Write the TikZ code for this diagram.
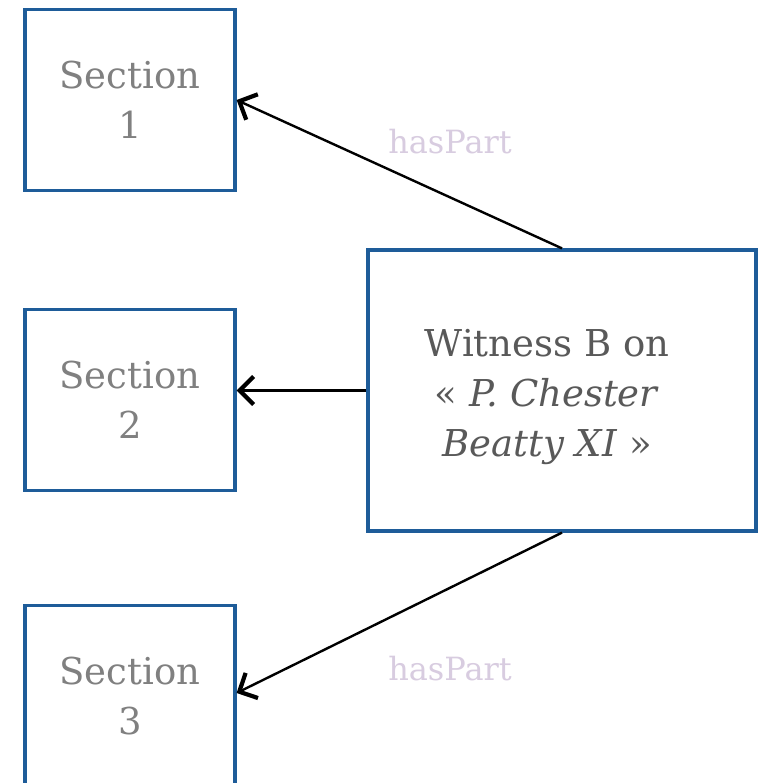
\documentclass[tikz,border=0pt]{standalone}
\usepackage{fontspec}
\setmainfont{DejaVu Serif}
\usetikzlibrary{arrows.meta}
\definecolor{boxblue}{RGB}{30,92,153}
\definecolor{sectgray}{RGB}{128,128,128}
\definecolor{witgray}{RGB}{89,89,89}
\definecolor{relcol}{RGB}{216,204,224}
\begin{document}
\begin{tikzpicture}[x=1pt,y=-1pt,
  box/.style={draw=boxblue,line width=3.2pt,fill=white,rectangle,inner sep=0pt},
  secbox/.style={box,minimum width=210pt,minimum height=181pt,text=sectgray,align=center,font=\fontsize{37}{50}\selectfont},
  conn/.style={draw=black,line width=2.4pt,-{Straight Barb[length=14pt,width=28pt,line width=4.2pt]}},
  rel/.style={text=relcol,font=\fontsize{32}{36}\selectfont}]
\useasboundingbox (0,0) rectangle (762,783);
\fill[white] (0,0) rectangle (762,783);
\node[secbox] (s1) at (130,100) {Section\\1};
\node[secbox] (s2) at (130,400) {Section\\2};
\node[secbox] (s3) at (130,696) {Section\\3};
\node[box,minimum width=388pt,minimum height=281pt] (w) at (562,390.5) {};
\node[text=witgray,align=center,font=\fontsize{37}{50}\selectfont] (wt) at (547,397) {Witness B on\\« \textit{P. Chester}\\\textit{Beatty XI} »};
\draw[conn] (w.north) -- (s1.east|-0,100);
\draw[conn] (w.west) -- (s2.east|-w.west);
\draw[conn] (w.south) -- (s3.east|-0,693);
\node[rel] (r1) at (450,142) {hasPart};
\node[rel] (r2) at (450,669) {hasPart};
\end{tikzpicture}
\end{document}
